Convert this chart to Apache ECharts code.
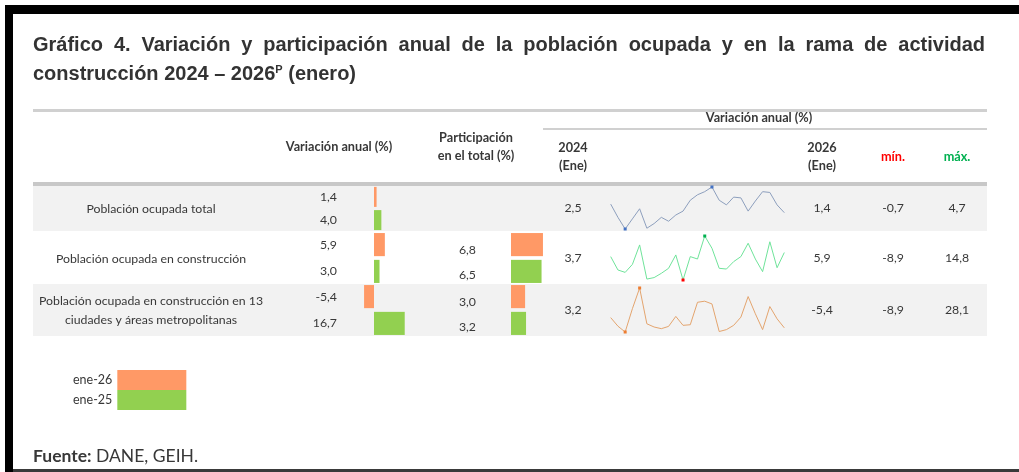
<!DOCTYPE html>
<html><head><meta charset="utf-8">
<script src="https://cdn.jsdelivr.net/npm/echarts@6/dist/echarts.min.js"></script>
<style>html,body{margin:0;padding:0;background:#fff}#c{width:1019px;height:472px}</style>
</head><body><div id="c"></div>
<script>
// ---------------- DATA ----------------
const titleLine1 = 'Gráfico 4. Variación y participación anual de la población ocupada y en la rama de actividad';
const titleLine2a = 'construcción 2024 – 2026';
const titleSup = 'P';
const titleLine2b = ' (enero)';
const rowLabels = ['Población ocupada total', 'Población ocupada en construcción', 'Población ocupada en construcción en 13\nciudades y áreas metropolitanas'];
const seriesNames = ['ene-26', 'ene-25'];
const varEne26 = [1.4, 5.9, -5.4];
const varEne25 = [4.0, 3.0, 16.7];
const partEne26 = [null, 6.8, 3.0];
const partEne25 = [null, 6.5, 3.2];
const months = ['ene-24','feb-24','mar-24','abr-24','may-24','jun-24','jul-24','ago-24','sep-24','oct-24','nov-24','dic-24',
  'ene-25','feb-25','mar-25','abr-25','may-25','jun-25','jul-25','ago-25','sep-25','oct-25','nov-25','dic-25','ene-26'];
const sparkTotal  = [2.5, 0.8, -0.7, 0.6, 1.9, -0.6, 0.0, 0.8, 0.3, 1.1, 1.6, 3.0, 3.7, 4.1, 4.7, 3.0, 2.4, 3.4, 3.3, 1.6, 2.9, 4.1, 4.0, 2.4, 1.4];
const sparkConstr = [3.7, -3.5, -4.8, -0.5, 10.0, -8.4, -7.6, -5.3, -2.6, 4.6, -8.9, 3.7, 2.4, 14.8, 8.2, -2.6, -3.0, 1.0, 3.7, 10.9, 2.4, -4.4, 11.7, -2.3, 5.9];
const sparkCities = [3.2, -4.0, -8.9, 10.7, 28.1, -2.0, -4.7, -6.1, -4.2, 4.2, -3.3, -2.8, 16.1, 17.0, 14.7, -8.5, -6.9, -3.3, 3.6, 20.9, 6.4, -6.9, 12.5, 2.2, -5.4];
const headerVar = 'Variación anual (%)';
const headerPart = 'Participación\nen el total (%)';
const headerGroup = 'Variación anual (%)';
const header2024 = '2024\n(Ene)';
const header2026 = '2026\n(Ene)';
const headerMin = 'mín.';
const headerMax = 'máx.';
const sourceBold = 'Fuente:';
const sourceText = ' DANE, GEIH.';

// ---------------- STYLE / LAYOUT ----------------
const FONT = 'Lato, "Noto Sans", sans-serif';
const TXT = '#383838';
const ORANGE = '#ff9966', GREEN = '#92d050';
const rows = [[186, 231], [232, 284], [284, 336]];
const sparkBox = [[187, 42], [236, 44], [288, 44]];
const sparkStyle = [
  {line: '#8d9fbd', hi: '#4472c4', lo: '#4472c4'},
  {line: '#6fe39a', hi: '#00b050', lo: '#ff0000'},
  {line: '#e3a46e', hi: '#ed7d31', lo: '#ed7d31'}
];
const sparks = [sparkTotal, sparkConstr, sparkCities];
const fmt = v => v.toFixed(1).replace('.', ',');

const chart = echarts.init(document.getElementById('c'), null, {renderer: 'canvas'});

const grids = [], xAxes = [], yAxes = [], series = [], g = [];
function addGrid(grid, xa, ya) {
  grids.push(grid); const i = grids.length - 1;
  xAxes.push(Object.assign({gridIndex: i, show: false}, xa));
  yAxes.push(Object.assign({gridIndex: i, show: false}, ya));
  return i;
}
const kVar = 1.84, zeroVar = 374, kPart = 4.7, zeroPart = 511;
rows.forEach((r, ri) => {
  const gv = addGrid({left: zeroVar - 10 * kVar, width: 30 * kVar, top: r[0], height: r[1] - r[0]},
    {type: 'value', min: -10, max: 20}, {type: 'category', data: [rowLabels[ri]], inverse: true});
  [varEne26, varEne25].forEach((arr, si) => series.push({
    type: 'bar', name: seriesNames[si], xAxisIndex: gv, yAxisIndex: gv, data: [arr[ri]],
    itemStyle: {color: si ? GREEN : ORANGE}, barCategoryGap: '4%', barGap: '16%', silent: true
  }));
  const gp = addGrid({left: zeroPart, width: 10 * kPart, top: r[0], height: r[1] - r[0]},
    {type: 'value', min: 0, max: 10}, {type: 'category', data: [rowLabels[ri]], inverse: true});
  [partEne26, partEne25].forEach((arr, si) => series.push({
    type: 'bar', name: seriesNames[si], xAxisIndex: gp, yAxisIndex: gp, data: [arr[ri]],
    itemStyle: {color: si ? GREEN : ORANGE}, barCategoryGap: '4%', barGap: '16%', silent: true
  }));
  const arr = sparks[ri];
  const mn = Math.min(...arr), mx = Math.max(...arr);
  const gs = addGrid({left: 610.7, width: 173.6, top: sparkBox[ri][0], height: sparkBox[ri][1]},
    {type: 'category', data: months, boundaryGap: false}, {type: 'value', min: mn, max: mx});
  const st = sparkStyle[ri];
  const iMax = arr.indexOf(mx), iMin = arr.indexOf(mn);
  series.push({
    type: 'line', xAxisIndex: gs, yAxisIndex: gs, showSymbol: true, showAllSymbol: true, silent: true,
    lineStyle: {color: st.line, width: 1}, itemStyle: {color: st.line},
    data: arr.map((v, i) => (i === iMax || i === iMin)
      ? {value: v, symbol: 'rect', symbolSize: 3, itemStyle: {color: i === iMax ? st.hi : st.lo}}
      : {value: v, symbol: 'none'})
  });
});

// ---------------- GRAPHIC (frame, table rules, texts) ----------------
g.push({type: 'rect', shape: {x: 5, y: 5, width: 1014, height: 9}, style: {fill: '#000'}});
g.push({type: 'rect', shape: {x: 5, y: 5, width: 8, height: 467}, style: {fill: '#000'}});
g.push({type: 'rect', shape: {x: 13, y: 469, width: 1006, height: 3}, style: {fill: '#3a3a3a'}});
[0, 2].forEach(ri => g.push({type: 'rect', z: -10, shape: {x: 33, y: rows[ri][0], width: 954, height: rows[ri][1] - rows[ri][0]}, style: {fill: '#f2f2f2'}}));
g.push({type: 'rect', shape: {x: 33, y: 109, width: 954, height: 3}, style: {fill: '#d0d0d0'}});
g.push({type: 'rect', shape: {x: 543, y: 128, width: 444, height: 2}, style: {fill: '#d0d0d0'}});
g.push({type: 'rect', shape: {x: 33, y: 182, width: 954, height: 4}, style: {fill: '#c8c8c8'}});

const mctx = document.createElement('canvas').getContext('2d');
const titleFont = 'bold 20px "Liberation Sans Narrow", "Liberation Sans", sans-serif';
mctx.font = titleFont;
const words = titleLine1.split(' ');
const wW = words.map(w => mctx.measureText(w).width);
const gap = (985 - 33 - wW.reduce((a, b) => a + b, 0)) / (words.length - 1);
let tx = 33;
words.forEach((w, i) => {
  g.push({type: 'text', x: tx, y: 45, style: {text: w, font: titleFont, fill: '#333', verticalAlign: 'middle'}});
  tx += wW[i] + gap;
});
g.push({type: 'text', x: 33, y: 74, style: {
  text: '{a|' + titleLine2a + '}{s|' + titleSup + '}{a|' + titleLine2b + '}', verticalAlign: 'middle',
  rich: {a: {font: titleFont, fill: '#333'}, s: {font: 'bold 11px "Liberation Sans Narrow", sans-serif', fill: '#333', padding: [0, 0, 9, 0]}}
}});

function T(text, x, y, opt) {
  g.push({type: 'text', x, y, z: 50, style: Object.assign({text, fill: TXT, fontFamily: FONT, fontSize: 12.3, align: 'center', verticalAlign: 'middle', lineHeight: 18}, opt || {})});
}
const HB = {fontWeight: 'bold', fontSize: 12.7};
T(headerGroup, 759, 118, HB);
T(headerVar, 339, 147, HB);
T(headerPart, 476, 147, HB);
T(header2024, 573, 157, HB);
T(header2026, 822, 157, HB);
T(headerMin, 893, 157, Object.assign({fill: '#ff0000'}, HB));
T(headerMax, 957, 157, Object.assign({fill: '#00b050'}, HB));

rows.forEach((r, ri) => {
  const h = r[1] - r[0], c = (r[0] + r[1]) / 2;
  const band = h * 0.96, bw = band / 2.16;
  const yTop = r[0] + h * 0.02 + bw / 2, yBot = r[0] + h * 0.02 + bw * 1.16 + bw / 2;
  T(rowLabels[ri], 151, c + 1, {lineHeight: 19});
  T(fmt(varEne26[ri]), 337, yTop, {align: 'right'});
  T(fmt(varEne25[ri]), 337, yBot, {align: 'right'});
  if (partEne26[ri] != null) T(fmt(partEne26[ri]), 476, yTop + 5, {align: 'right'});
  if (partEne25[ri] != null) T(fmt(partEne25[ri]), 476, yBot + 4, {align: 'right'});
  const arr = sparks[ri];
  T(fmt(arr[0]), 573, c);
  T(fmt(arr[arr.length - 1]), 822, c);
  T(fmt(Math.min(...arr)), 893, c);
  T(fmt(Math.max(...arr)), 957, c);
});

g.push({type: 'text', x: 33, y: 456, style: {
  text: '{b|' + sourceBold + '}{n|' + sourceText + '}', verticalAlign: 'middle',
  rich: {b: {fontFamily: FONT, fontSize: 17.5, fontWeight: 'bold', fill: '#383838'}, n: {fontFamily: FONT, fontSize: 17.5, fill: '#383838'}}
}});

chart.setOption({
  animation: false,
  grid: grids, xAxis: xAxes, yAxis: yAxes, series,
  legend: {
    data: seriesNames, orient: 'vertical', left: 68, top: 365, itemWidth: 69, itemHeight: 20, itemGap: 0,
    align: 'right', icon: 'rect', selectedMode: false,
    textStyle: {fontFamily: FONT, fontSize: 12.5, color: TXT, padding: [0, 0, 0, 0]}
  },
  graphic: {elements: g}
});
</script></body></html>
